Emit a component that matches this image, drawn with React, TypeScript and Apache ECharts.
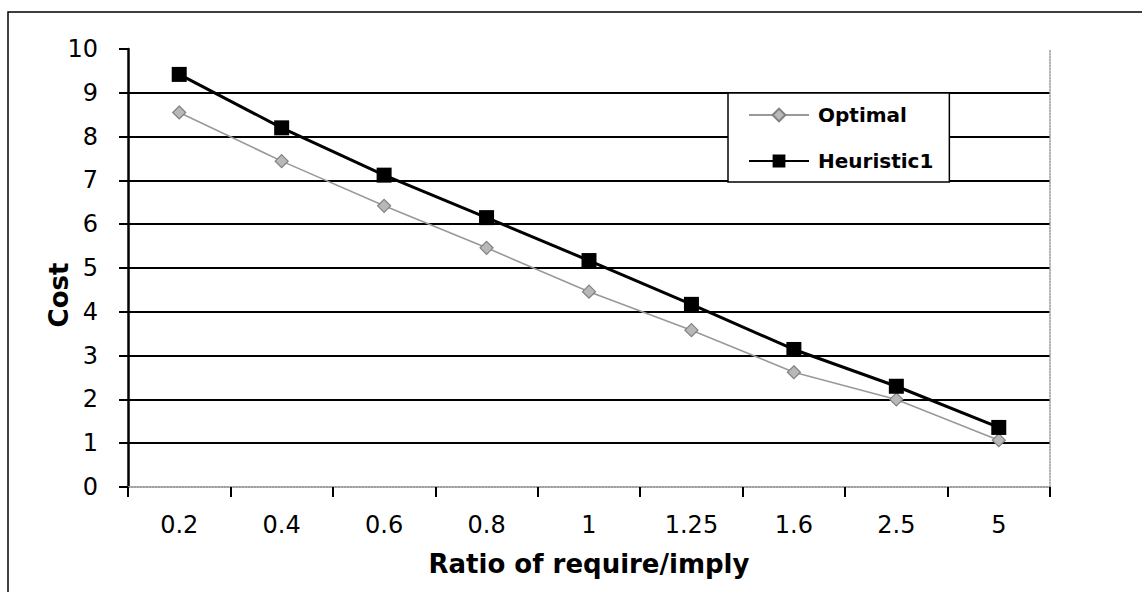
import React, { useEffect, useRef } from "react";
import * as echarts from "echarts";

const categories = ["0.2", "0.4", "0.6", "0.8", "1", "1.25", "1.6", "2.5", "5"];
const optimal = [8.55, 7.44, 6.42, 5.46, 4.46, 3.58, 2.62, 2.0, 1.07];
const heuristic1 = [9.42, 8.2, 7.12, 6.15, 5.17, 4.17, 3.14, 2.3, 1.36];
const yTicks = { min: 0, max: 10, interval: 1 };

export default function App() {
  const ref = useRef<HTMLDivElement>(null);
  useEffect(() => {
    if (!ref.current) return;
    const chart = echarts.init(ref.current, null, { renderer: "svg" });
    const font = "'DejaVu Sans', sans-serif";
    chart.setOption({
      animation: false,
      backgroundColor: "#fff",
      grid: { left: 128, right: 92, top: 49, bottom: 105 },
      legend: {
        orient: "vertical",
        left: 728,
        top: 93,
        padding: [12, 16, 11, 20],
        itemWidth: 60,
        itemHeight: 16,
        itemGap: 26,
        backgroundColor: "#fff",
        borderColor: "#000",
        borderWidth: 1.5,
        textStyle: { fontFamily: font, fontSize: 20, fontWeight: "bold", color: "#000", padding: [0, 0, 0, 4] },
        data: ["Optimal", "Heuristic1"],
      },
      xAxis: [
        {
          type: "category",
          data: categories,
          boundaryGap: true,
          name: "Ratio of require/imply",
          nameLocation: "middle",
          nameGap: 64,
          nameMoveOverlap: false,
          nameTextStyle: { fontFamily: font, fontSize: 26, fontWeight: "bold", color: "#000" },
          axisLine: { show: true, lineStyle: { color: "#999", width: 1.5, type: "dotted" } },
          axisTick: { show: true, inside: false, length: 10, alignWithLabel: false, lineStyle: { color: "#000", width: 2 } },
          axisLabel: { margin: 26, fontFamily: font, fontSize: 24, color: "#000" },
          splitLine: { show: false },
        },
        {
          type: "category",
          data: categories,
          position: "top",
          axisLine: { show: true, lineStyle: { color: "#999", width: 1.5, type: "dotted" } },
          axisTick: { show: false },
          axisLabel: { show: false },
          splitLine: { show: false },
        },
      ],
      yAxis: [
        {
          type: "value",
          min: yTicks.min,
          max: yTicks.max,
          interval: yTicks.interval,
          name: "Cost",
          nameLocation: "middle",
          nameGap: 56,
          nameMoveOverlap: false,
          nameTextStyle: { fontFamily: font, fontSize: 26, fontWeight: "bold", color: "#000", padding: [0, 54, 0, 0] },
          axisLine: { show: true, lineStyle: { color: "#000", width: 2.5 } },
          axisTick: { show: true, inside: false, length: 9, lineStyle: { color: "#000", width: 2 } },
          axisLabel: { margin: 30, fontFamily: font, fontSize: 24, color: "#000" },
          splitLine: { show: true, showMinLine: false, showMaxLine: false, lineStyle: { color: "#000", width: 2 } },
        },
        {
          type: "value",
          min: yTicks.min,
          max: yTicks.max,
          interval: yTicks.interval,
          position: "right",
          axisLine: { show: true, lineStyle: { color: "#999", width: 1.5, type: "dotted" } },
          axisTick: { show: false },
          axisLabel: { show: false },
          splitLine: { show: false },
        },
      ],
      series: [
        {
          name: "Optimal",
          type: "line",
          data: optimal,
          symbol: "diamond",
          symbolSize: 13,
          lineStyle: { color: "#999", width: 1.6 },
          itemStyle: { color: "#b8b8b8", borderColor: "#808080", borderWidth: 1.2 },
          z: 3,
        },
        {
          name: "Heuristic1",
          type: "line",
          data: heuristic1,
          symbol: "rect",
          symbolSize: 15,
          lineStyle: { color: "#000", width: 3 },
          itemStyle: { color: "#000" },
          z: 4,
        },
      ],
      graphic: [
        {
          type: "polyline",
          shape: { points: [[8, 620], [8, 12], [1160, 12]] },
          style: { stroke: "#000", lineWidth: 1.5, fill: "none" },
          silent: true,
        },
      ],
    });
    return () => chart.dispose();
  }, []);
  return (
    <div
      ref={ref}
      style={{ position: "fixed", left: 0, top: 0, width: 1142, height: 592 }}
    />
  );
}
